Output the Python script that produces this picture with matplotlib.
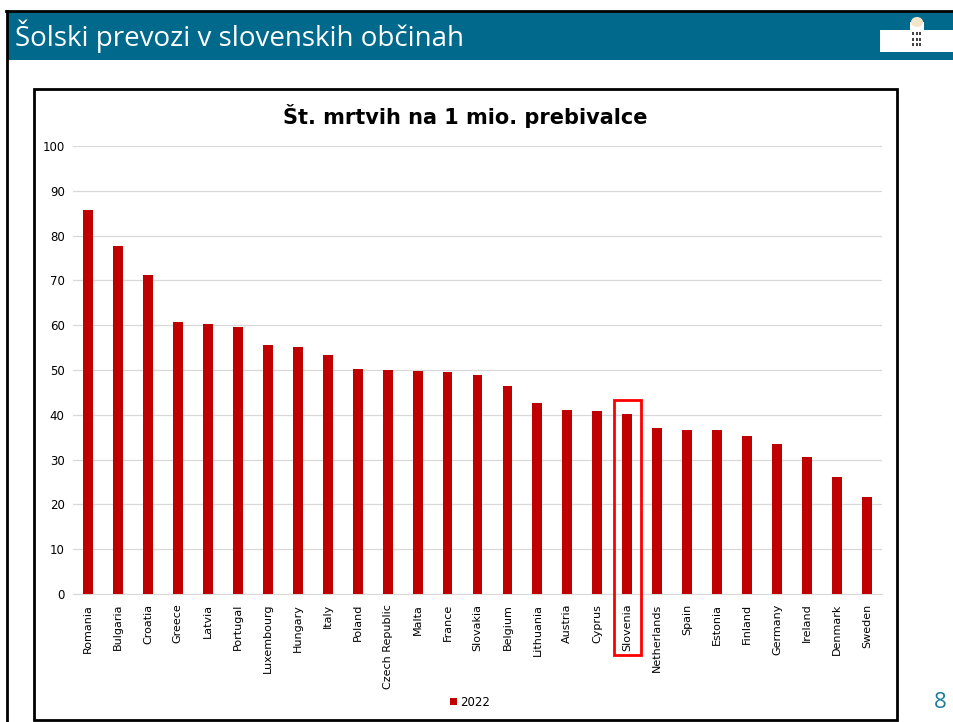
import matplotlib.pyplot as plt
from matplotlib.patches import Rectangle, Ellipse

countries = ['Romania', 'Bulgaria', 'Croatia', 'Greece', 'Latvia', 'Portugal',
             'Luxembourg', 'Hungary', 'Italy', 'Poland', 'Czech Republic', 'Malta',
             'France', 'Slovakia', 'Belgium', 'Lithuania', 'Austria', 'Cyprus',
             'Slovenia', 'Netherlands', 'Spain', 'Estonia', 'Finland', 'Germany',
             'Ireland', 'Denmark', 'Sweden']
deaths_2022 = [85.7, 77.7, 71.2, 60.7, 60.3, 59.6, 55.6, 55.1, 53.3, 50.2, 50.0, 49.8,
               49.6, 48.9, 46.4, 42.6, 41.1, 40.8, 40.2, 37.1, 36.6, 36.6, 35.3, 33.5,
               30.6, 26.1, 21.7]
yticks = [0, 10, 20, 30, 40, 50, 60, 70, 80, 90, 100]
highlight = 'Slovenia'

W, H = 954, 722
fig = plt.figure(figsize=(W / 100, H / 100), dpi=100)
fig.patch.set_facecolor('white')

def fx(px):
    return px / W

def fy(py):
    return 1 - py / H

# slide header
fig.patches.append(Rectangle((fx(7), fy(60)), fx(954 - 7), (60 - 12) / H,
                             transform=fig.transFigure, facecolor='#00698C',
                             edgecolor='none', zorder=1))
fig.lines.append(plt.Line2D([fx(6), 1], [fy(11), fy(11)], transform=fig.transFigure,
                            color='black', lw=2, zorder=2))
fig.lines.append(plt.Line2D([fx(7), fx(7)], [fy(11), 0], transform=fig.transFigure,
                            color='black', lw=2, zorder=2))
fig.text(fx(15), fy(36), 'Šolski prevozi v slovenskih občinah', color='white',
         fontsize=20, family='Open Sans', va='center', ha='left')

# logo
fig.patches.append(Rectangle((fx(880), fy(52)), fx(74), 22 / H, transform=fig.transFigure,
                             facecolor='white', edgecolor='none', zorder=3))
fig.patches.append(Rectangle((fx(910), fy(52)), fx(14), 30 / H, transform=fig.transFigure,
                             facecolor='white', edgecolor='none', zorder=4))
fig.patches.append(Ellipse((fx(917), fy(22)), fx(12), 10 / H, transform=fig.transFigure,
                           facecolor='#f2e6c8', edgecolor='none', zorder=4))
for r in range(3):
    for c in range(3):
        fig.patches.append(Rectangle((fx(912.5 + c * 3.5), fy(35 + r * 5.5)), fx(1.6), 3 / H,
                                     transform=fig.transFigure, facecolor='#444444',
                                     edgecolor='none', zorder=5))

# page number
fig.text(fx(940), fy(702), '8', color='#1B7A9E', fontsize=16, family='Open Sans',
         ha='center', va='center')

# chart frame
fig.patches.append(Rectangle((fx(34), fy(720)), fx(897 - 34), (720 - 89) / H,
                             transform=fig.transFigure, facecolor='white',
                             edgecolor='black', lw=2, zorder=1))

ax = fig.add_axes([fx(73), fy(594), fx(882 - 73), (594 - 146) / H])
ax.set_zorder(5)
ax.patch.set_alpha(0)
x = list(range(len(countries)))
ax.bar(x, deaths_2022, width=0.33, color='#C00000', zorder=3, label='2022')
ax.set_xlim(-0.5, len(countries) - 0.5)
ax.set_ylim(0, 100)
ax.set_yticks(yticks)
ax.set_yticklabels([str(t) for t in yticks], fontsize=8.5)
ax.set_xticks(x)
ax.set_xticklabels(countries, rotation=90, fontsize=8)
ax.tick_params(axis='both', length=0, pad=6)
ax.tick_params(axis='x', pad=7)
ax.grid(axis='y', color='#D9D9D9', lw=0.9, zorder=0)
for s in ['top', 'right', 'left']:
    ax.spines[s].set_visible(False)
ax.spines['bottom'].set_color('#D9D9D9')

fig.text(fx(465), fy(116), 'Št. mrtvih na 1 mio. prebivalce', fontsize=15,
         fontweight='bold', ha='center', va='center')

# highlight box around Slovenia
i = countries.index(highlight)
ax.add_patch(Rectangle((i - 0.45, -13.6), 0.9, 13.6 + deaths_2022[i] + 3.2,
                       transform=ax.transData, fill=False, edgecolor='#FF0000',
                       lw=2, clip_on=False, zorder=6))

# legend
leg = fig.legend(loc='center', bbox_to_anchor=(fx(470), fy(702)), frameon=False,
                 fontsize=8.5, handlelength=0.6, handleheight=0.6, handletextpad=0.2)

fig.savefig('out.png', dpi=100)
